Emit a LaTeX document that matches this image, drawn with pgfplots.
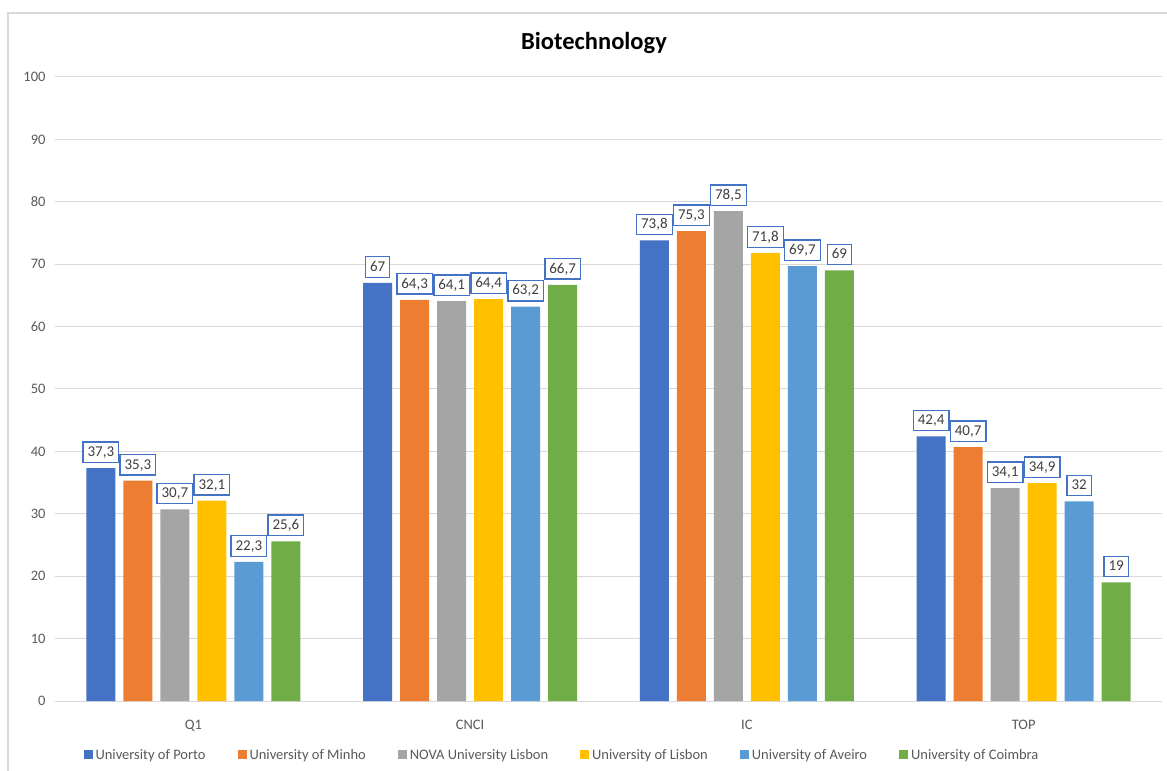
\documentclass[border=0pt]{standalone}
\usepackage{pgfplots}
\pgfplotsset{compat=1.18}
\usepackage{fontspec}
\setmainfont{Carlito}

\definecolor{cPorto}{HTML}{4472C4}
\definecolor{cMinho}{HTML}{ED7D31}
\definecolor{cNova}{HTML}{A5A5A5}
\definecolor{cLisbon}{HTML}{FFC000}
\definecolor{cAveiro}{HTML}{5B9BD5}
\definecolor{cCoimbra}{HTML}{70AD47}
\definecolor{gridc}{HTML}{D9D9D9}
\definecolor{txt}{HTML}{595959}
\definecolor{lbl}{HTML}{404040}

% x: 0 = Q1, 1 = CNCI, 2 = IC, 3 = TOP
\pgfplotstableread{
x porto minho nova lisbon aveiro coimbra
0 37.3 35.3 30.7 32.1 22.3 25.6
1 67   64.3 64.1 64.4 63.2 66.7
2 73.8 75.3 78.5 71.8 69.7 69
3 42.4 40.7 34.1 34.9 32   19
}\biotech

\begin{document}
\begin{tikzpicture}
\path[use as bounding box] (-55bp,-70bp) rectangle (1112bp,701bp);
\draw[gridc, line width=1.5bp] (-47bp,-80bp) -- (-47bp,688bp) -- (1120bp,688bp);
\node[font=\fontsize{24.5bp}{28bp}\selectfont\bfseries, text=black] at (539bp,658bp) {Biotechnology};
\begin{axis}[
    at={(0,0)}, anchor=south west,
    scale only axis,
    width=1107bp, height=624bp,
    ymin=0, ymax=100,
    ytick={0,10,...,100},
    xmin=-0.5, xmax=3.5,
    xtick=data,
    xticklabels={Q1,CNCI,IC,TOP},
    axis x line*=bottom,
    axis y line*=left,
    y axis line style={draw=none},
    x axis line style={draw=gridc, line width=1bp},
    tick style={draw=none},
    ymajorgrids,
    major grid style={draw=gridc, line width=1bp},
    /pgf/number format/assume math mode=true,
    tick label style={font=\fontsize{14.5bp}{17bp}\selectfont, text=txt},
    yticklabel style={xshift=-6bp},
    xticklabel style={yshift=-11bp},
    ybar=8bp,
    bar width=29bp,
    clip=false,
    nodes near coords,
    /pgf/number format/.cd, fixed, precision=1, use comma, assume math mode=true,
    /pgfplots/.cd,
    every node near coord/.append style={
        font=\fontsize{15bp}{17bp}\selectfont, text=lbl,
        draw=cPorto, line width=1.3bp, fill=white,
        inner xsep=4.5bp, inner ysep=4bp,
        text height=10.5bp, text depth=2bp,
        anchor=south, yshift=5bp},
    legend columns=6,
    legend style={
        at={(0.458,-0.0865)}, anchor=center,
        draw=none, fill=none,
        font=\fontsize{14.5bp}{17bp}\selectfont, text=txt,
        /tikz/every even column/.style={column sep=30bp},
        inner sep=0pt,
    },
    legend image code/.code={\fill[#1] (0bp,-4.5bp) rectangle (9bp,4.5bp);
        \path (10bp,0bp);},
]
\addplot[fill=cPorto, draw=none] table[x=x, y=porto] {\biotech};
\addlegendentry{University of Porto}
\addplot[fill=cMinho, draw=none] table[x=x, y=minho] {\biotech};
\addlegendentry{University of Minho}
\addplot[fill=cNova, draw=none] table[x=x, y=nova] {\biotech};
\addlegendentry{NOVA University Lisbon}
\addplot[fill=cLisbon, draw=none] table[x=x, y=lisbon] {\biotech};
\addlegendentry{University of Lisbon}
\addplot[fill=cAveiro, draw=none] table[x=x, y=aveiro] {\biotech};
\addlegendentry{University of Aveiro}
\addplot[fill=cCoimbra, draw=none] table[x=x, y=coimbra] {\biotech};
\addlegendentry{University of Coimbra}
\end{axis}
\end{tikzpicture}
\end{document}
